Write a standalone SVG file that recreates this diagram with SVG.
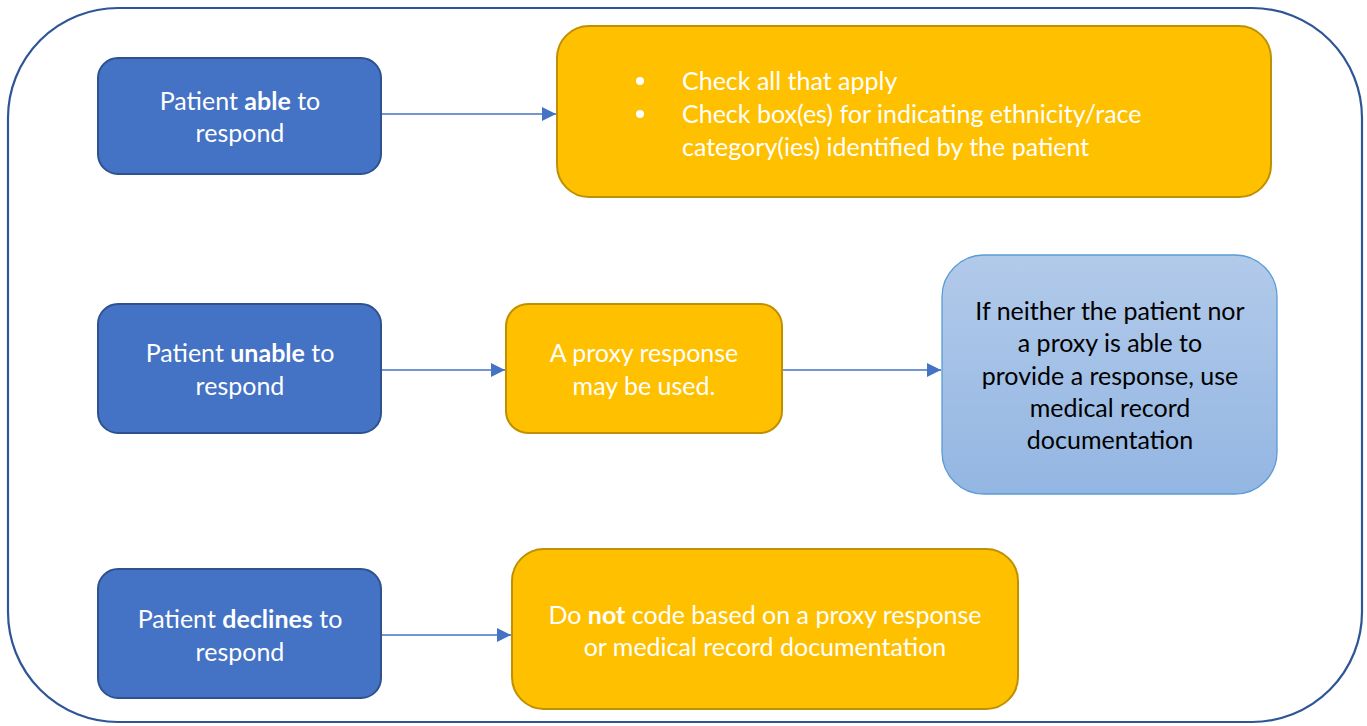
<svg xmlns="http://www.w3.org/2000/svg" width="1367" height="726" viewBox="0 0 1367 726">
<style>
.frame{fill:#fff;stroke:#2F5597;stroke-width:2.2}
.dark{fill:#4472C4;stroke:#2F528F;stroke-width:2}
.gold{fill:#FFC000;stroke:#BF9000;stroke-width:2}
.light{fill:url(#lg);stroke:#5B9BD5;stroke-width:1.3}
text{font-family:Lato,"Open Sans","Liberation Sans",sans-serif;font-size:25px;text-anchor:middle}
.w{fill:#fff}
.k{fill:#000}
.l{text-anchor:start}
.conn{stroke:#4472C4;stroke-width:1.3;fill:none;marker-end:url(#ah)}
</style>
<defs>
<linearGradient id="lg" x1="0" y1="0" x2="0" y2="1">
<stop offset="0" stop-color="#B2CAEA"/>
<stop offset="1" stop-color="#93B6E2"/>
</linearGradient>
<marker id="ah" viewBox="0 0 10 10" refX="10" refY="5" markerWidth="14" markerHeight="14" markerUnits="userSpaceOnUse" orient="auto">
<path d="M0,0L10,5L0,10z" fill="#4472C4"/>
</marker>
</defs>
<rect class="frame" x="8" y="8" width="1354" height="714" rx="110" ry="110"/>
<g id="connectors">
<line class="conn" x1="381" y1="114" x2="556" y2="114"/>
<line class="conn" x1="381" y1="370" x2="505" y2="370"/>
<line class="conn" x1="782" y1="370" x2="941" y2="370"/>
<line class="conn" x1="381" y1="635" x2="511" y2="635"/>
</g>
<g id="able">
<rect class="dark" x="98" y="58" width="283" height="116" rx="20"/>
<text class="w" x="240" y="110">Patient <tspan font-weight="bold">able</tspan> to</text>
<text class="w" x="240" y="142">respond</text>
</g>
<g id="check">
<rect class="gold" x="557" y="26" width="714" height="171" rx="32"/>
<circle cx="640" cy="81" r="4" fill="#fff"/>
<circle cx="640" cy="114" r="4" fill="#fff"/>
<text class="w l" x="682" y="90">Check all that apply</text>
<text class="w l" x="682" y="123">Check box(es) for indicating ethnicity/race</text>
<text class="w l" x="682" y="156">category(ies) identified by the patient</text>
</g>
<g id="unable">
<rect class="dark" x="98" y="304" width="283" height="129" rx="20"/>
<text class="w" x="240" y="362">Patient <tspan font-weight="bold">unable</tspan> to</text>
<text class="w" x="240" y="395">respond</text>
</g>
<g id="proxy">
<rect class="gold" x="506" y="304" width="276" height="129" rx="22"/>
<text class="w" x="644" y="362">A proxy response</text>
<text class="w" x="644" y="395">may be used.</text>
</g>
<g id="medical">
<rect class="light" x="942" y="255" width="335" height="239" rx="42"/>
<text class="k" x="1110" y="320">If neither the patient nor</text>
<text class="k" x="1110" y="352">a proxy is able to</text>
<text class="k" x="1110" y="385">provide a response, use</text>
<text class="k" x="1110" y="417">medical record</text>
<text class="k" x="1110" y="449">documentation</text>
</g>
<g id="declines">
<rect class="dark" x="98" y="569" width="283" height="129" rx="20"/>
<text class="w" x="240" y="628">Patient <tspan font-weight="bold">declines</tspan> to</text>
<text class="w" x="240" y="661">respond</text>
</g>
<g id="donot">
<rect class="gold" x="512" y="549" width="506" height="160" rx="32"/>
<text class="w" x="765" y="624">Do <tspan font-weight="bold">not</tspan> code based on a proxy response</text>
<text class="w" x="765" y="656">or medical record documentation</text>
</g>
</svg>
